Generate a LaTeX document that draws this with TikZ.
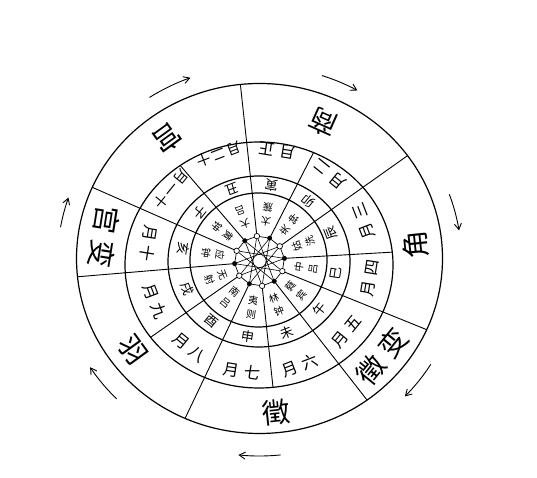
\documentclass[tikz,border=0pt]{standalone}
\usepackage{fontspec}
\newfontfamily\cjk{Noto Sans CJK SC}
\TeXXeTstate=1
\newcommand\cenx{259.5}
\newcommand\ceny{217}
\newcommand\hub{25}
\newcommand\gap{\hspace{5pt}}
\newcommand\ngap{\hspace{2pt}}
\newcommand\wgap{\hspace{7pt}}
\newcommand\rl[1]{\beginR#1\endR}
\usepackage{tikz}
\usetikzlibrary{arrows.meta}
\tikzset{ring/.style={draw=black,line width=1.2pt},
  spoke/.style={draw=black,line width=0.9pt},
  tone/.style={font=\cjk\fontsize{28}{28}\selectfont,inner sep=0pt},
  month/.style={font=\cjk\fontsize{16}{16}\selectfont,inner sep=0pt},
  longmonth/.style={font=\cjk\fontsize{14}{14}\selectfont,inner sep=0pt},
  branch/.style={font=\cjk\fontsize{13}{13}\selectfont,inner sep=0pt},
  pipe/.style={font=\cjk\fontsize{10}{14}\selectfont,inner sep=0pt,align=center},
  yang/.style={circle,draw=black,fill=black,inner sep=0pt,minimum size=4.5pt},
  yin/.style={circle,draw=black,fill=white,line width=0.7pt,inner sep=0pt,minimum size=5.5pt},
  turn/.style={line width=0.9pt,-{Straight Barb[length=6pt,width=7pt]}}}

\begin{document}
\begin{tikzpicture}[x=1pt,y=1pt]
\useasboundingbox (0,0) rectangle (537,478);
\coordinate (c) at (\cenx,\ceny);
\draw[ring] (\cenx,219.5) ellipse [x radius=183,y radius=175];
\draw[ring] (259,213) ellipse [x radius=134,y radius=123];
\draw[ring] (259,216.5) ellipse [x radius=91,y radius=85.5];
\draw[ring] (258.5,218) ellipse [x radius=68.5,y radius=67];

\foreach \kind [count=\k from 0] in {yin,yang,yin,yang,yin,yang,yin,yang,yin,yang,yin,yang}{
  \pgfmathsetmacro\ang{96-30*\k}
  \coordinate (e\k) at ({259+134*cos(\ang)},{213+123*sin(\ang)});
  \coordinate (f\k) at ({\cenx+183*cos(\ang)},{219.5+175*sin(\ang)});
  \node[\kind] (h\k) at ({\cenx+\hub*cos(\ang)},{\ceny+\hub*sin(\ang)}) {};
}
\foreach \k in {0,...,11}{
  \pgfmathtruncatemacro\nx{mod(\k+1,12)}
  \pgfmathtruncatemacro\st{mod(\k+5,12)}
  \draw[line width=0.7pt] (h\k) -- (h\nx);
  \draw[line width=0.6pt] (h\k) -- (h\st);
}
\foreach \k in {1,3,6,8,11} \draw[spoke] (h\k) -- (e\k);
\foreach \k in {0,2,4,5,7,9,10} \draw[spoke] (h\k) -- (f\k);

\foreach \ang/\txt [count=\i] in {126/宫,66/商,6/角,-39/变\wgap 徵,-84/徵,-144/羽,171/变\wgap 宫}
  \node[tone,rotate=\ang+90] (t\i) at ({\cenx+157*cos(\ang)},{\ceny+152*sin(\ang)}) {\rl{\txt}};

\foreach \txt [count=\i from 0] in {正\gap 月,二\gap 月,三\gap 月,四\gap 月,五\gap 月,六\gap 月,七\gap 月,八\gap 月,九\gap 月,十\gap 月}{
  \pgfmathsetmacro\ang{81-30*\i}
  \node[month,rotate=\ang+90] (m\i) at ({\cenx+112*cos(\ang)},{\ceny+112*sin(\ang)}) {\rl{\txt}};
}
\node[longmonth,rotate=231] (m10) at ({\cenx+114*cos(141)},{\ceny+114*sin(141)}) {\rl{十\ngap 一\ngap 月}};
\node[longmonth,rotate=201] (m11) at ({\cenx+114*cos(111)},{\ceny+114*sin(111)}) {\rl{十\ngap 二\ngap 月}};

\foreach \txt [count=\i from 0] in {寅,卯,辰,巳,午,未,申,酉,戌,亥,子,丑}{
  \pgfmathsetmacro\ang{81-30*\i}
  \node[branch,rotate=\ang+90] (b\i) at ({\cenx+77*cos(\ang)},{\ceny+77*sin(\ang)}) {\txt};
}
\foreach \txt [count=\i from 0] in {太\\簇,夹\\钟,姑\\洗,中\\吕,蕤\\宾,林\\钟,夷\\则,南\\吕,无\\射,应\\钟,黄\\钟,大\\吕}{
  \pgfmathsetmacro\ang{81-30*\i}
  \node[pipe,rotate=\ang+90] (p\i) at ({\cenx+47*cos(\ang)},{\ceny+47*sin(\ang)}) {\txt};
}

\foreach \a/\b [count=\i] in {123/110,72/61,20/9,-32/-44,-84/-96,-135/-147,170/161}{
  \coordinate (s\i) at ({\cenx+202*cos(\a)},{\ceny+195*sin(\a)});
  \draw[turn] (s\i) arc[start angle=\a,end angle=\b,x radius=202,y radius=195];
}
\end{tikzpicture}
\end{document}
